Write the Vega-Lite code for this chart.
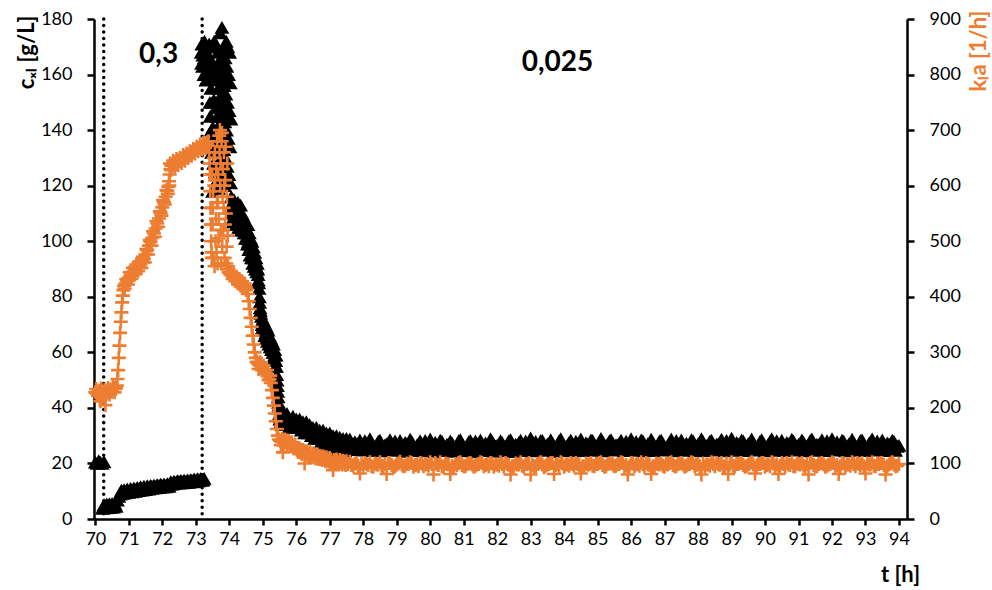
{
"$schema":"https://vega.github.io/schema/vega-lite/v6.json",
"autosize":{"type":"none"},
"width":813,"height":500,
"padding":{"left":94,"top":19,"right":85,"bottom":71},
"background":"#ffffff",
"config":{"view":{"stroke":null},"font":"Lato"},
"datasets":{
"cxl":[
{"t":70.0,"c":20.5},{"t":70.05,"c":20.0},{"t":70.1,"c":21.0},{"t":70.15,"c":20.5},{"t":70.2,"c":20.0},{"t":70.26,"c":20.6},
{"t":70.22,"c":3.8},{"t":70.26,"c":5.2},{"t":70.3,"c":4.0},{"t":70.34,"c":5.4},{"t":70.38,"c":4.1},{"t":70.42,"c":5.5},{"t":70.46,"c":4.2},{"t":70.5,"c":5.6},{"t":70.54,"c":4.3},{"t":70.58,"c":5.7},{"t":70.62,"c":4.6},{"t":70.66,"c":6.8},{"t":70.7,"c":8.2},{"t":70.74,"c":9.0},{"t":70.78,"c":10.4},{"t":70.82,"c":9.2},{"t":70.86,"c":10.6},{"t":70.9,"c":9.4},{"t":70.95,"c":10.8},{"t":71.0,"c":9.6},{"t":71.05,"c":11.0},{"t":71.1,"c":9.8},{"t":71.15,"c":11.2},{"t":71.2,"c":10.0},{"t":71.25,"c":11.4},{"t":71.3,"c":10.2},{"t":71.35,"c":11.6},{"t":71.4,"c":10.4},{"t":71.45,"c":11.8},{"t":71.5,"c":10.6},{"t":71.55,"c":12.0},{"t":71.6,"c":10.8},{"t":71.65,"c":12.1},{"t":71.7,"c":11.0},{"t":71.75,"c":12.2},{"t":71.8,"c":11.2},{"t":71.85,"c":12.4},{"t":71.9,"c":11.3},{"t":71.95,"c":12.5},{"t":72.0,"c":11.5},{"t":72.05,"c":12.6},{"t":72.1,"c":11.6},{"t":72.15,"c":12.7},{"t":72.2,"c":11.8},{"t":72.25,"c":13.4},{"t":72.3,"c":12.6},{"t":72.35,"c":13.6},{"t":72.4,"c":12.8},{"t":72.45,"c":13.8},{"t":72.5,"c":12.9},{"t":72.55,"c":13.9},{"t":72.6,"c":13.0},{"t":72.65,"c":14.0},{"t":72.7,"c":13.1},{"t":72.75,"c":14.1},{"t":72.8,"c":13.2},{"t":72.85,"c":14.2},{"t":72.9,"c":13.4},{"t":72.95,"c":14.4},{"t":73.0,"c":13.5},{"t":73.05,"c":14.5},{"t":73.1,"c":13.7},{"t":73.15,"c":14.6},{"t":73.2,"c":13.9},{"t":73.25,"c":14.6},
{"t":70.24,"c":4.6},{"t":70.28,"c":4.6},{"t":70.32,"c":4.8},{"t":70.36,"c":4.7},{"t":70.4,"c":4.9},{"t":70.44,"c":4.8},{"t":70.48,"c":5.0},{"t":70.52,"c":4.9},{"t":70.56,"c":5.1},{"t":70.6,"c":5.0},
{"t":70.76,"c":9.8},{"t":70.8,"c":9.9},{"t":70.84,"c":10.0},{"t":70.88,"c":10.1},{"t":70.925,"c":10.2},{"t":70.975,"c":10.3},{"t":71.025,"c":10.4},{"t":71.075,"c":10.5},{"t":71.125,"c":10.6},{"t":71.175,"c":10.7},{"t":71.225,"c":10.8},{"t":71.275,"c":10.9},{"t":71.325,"c":11.0},{"t":71.375,"c":11.1},{"t":71.425,"c":11.2},{"t":71.475,"c":11.3},{"t":71.525,"c":11.4},{"t":71.575,"c":11.5},{"t":71.625,"c":11.6},{"t":71.675,"c":11.7},{"t":71.725,"c":11.8},{"t":71.775,"c":11.9},{"t":71.825,"c":12.0},{"t":71.875,"c":12.0},{"t":71.925,"c":12.1},{"t":71.975,"c":12.2},{"t":72.025,"c":12.2},{"t":72.075,"c":12.3},{"t":72.125,"c":12.3},{"t":72.175,"c":12.4},{"t":72.225,"c":12.6},{"t":72.275,"c":13.1},{"t":72.325,"c":13.2},{"t":72.375,"c":13.3},{"t":72.425,"c":13.4},{"t":72.475,"c":13.4},{"t":72.525,"c":13.5},{"t":72.575,"c":13.5},{"t":72.625,"c":13.6},{"t":72.675,"c":13.6},{"t":72.725,"c":13.7},{"t":72.775,"c":13.7},{"t":72.825,"c":13.8},{"t":72.875,"c":13.9},{"t":72.925,"c":14.0},{"t":72.975,"c":14.0},{"t":73.025,"c":14.1},{"t":73.075,"c":14.2},{"t":73.125,"c":14.2},{"t":73.175,"c":14.3},{"t":73.225,"c":14.3},
{"t":73.16,"c":168},{"t":73.18,"c":171},{"t":73.2,"c":163},{"t":73.22,"c":169},{"t":73.24,"c":160},{"t":73.26,"c":172},{"t":73.28,"c":165},{"t":73.3,"c":158},{"t":73.32,"c":170},{"t":73.34,"c":162},{"t":73.36,"c":167},{"t":73.38,"c":159},{"t":73.4,"c":171},{"t":73.42,"c":150},{"t":73.44,"c":164},{"t":73.46,"c":140},{"t":73.48,"c":170},
{"t":73.17,"c":164},{"t":73.21,"c":167},{"t":73.25,"c":166},{"t":73.29,"c":169},{"t":73.33,"c":165},{"t":73.37,"c":163},{"t":73.41,"c":160},{"t":73.43,"c":145},{"t":73.45,"c":155},{"t":73.47,"c":132},{"t":73.49,"c":150},
{"t":73.5,"c":118},{"t":73.51,"c":141},{"t":73.52,"c":164},{"t":73.53,"c":128},{"t":73.54,"c":151},{"t":73.55,"c":172},{"t":73.56,"c":138},{"t":73.57,"c":161},{"t":73.58,"c":125},{"t":73.59,"c":148},{"t":73.6,"c":171},{"t":73.61,"c":135},{"t":73.62,"c":158},{"t":73.63,"c":122},{"t":73.64,"c":145},{"t":73.65,"c":168},{"t":73.66,"c":132},{"t":73.67,"c":155},{"t":73.68,"c":119},{"t":73.69,"c":142},{"t":73.7,"c":165},{"t":73.71,"c":129},{"t":73.72,"c":152},{"t":73.73,"c":175},{"t":73.74,"c":139},{"t":73.75,"c":162},{"t":73.76,"c":126},{"t":73.77,"c":149},{"t":73.78,"c":177},{"t":73.79,"c":136},{"t":73.8,"c":159},{"t":73.81,"c":123},{"t":73.82,"c":146},{"t":73.83,"c":169},{"t":73.84,"c":133},{"t":73.85,"c":156},{"t":73.86,"c":120},{"t":73.87,"c":143},{"t":73.88,"c":166},{"t":73.89,"c":130},{"t":73.9,"c":153},{"t":73.91,"c":172},{"t":73.92,"c":140},{"t":73.93,"c":163},{"t":73.94,"c":127},{"t":73.95,"c":150},{"t":73.96,"c":170},{"t":73.97,"c":137},{"t":73.98,"c":160},{"t":73.99,"c":124},{"t":74.0,"c":147},{"t":74.01,"c":168},{"t":74.02,"c":134},{"t":74.03,"c":157},{"t":74.04,"c":121},{"t":74.05,"c":144},
{"t":74.06,"c":116},{"t":74.08,"c":110},{"t":74.1,"c":114},{"t":74.12,"c":107},{"t":74.14,"c":115},{"t":74.16,"c":109},{"t":74.18,"c":113},{"t":74.2,"c":106},{"t":74.22,"c":112},{"t":74.24,"c":108},{"t":74.26,"c":114},{"t":74.28,"c":105},{"t":74.3,"c":111},{"t":74.32,"c":107},{"t":74.34,"c":113},{"t":74.36,"c":104},{"t":74.38,"c":110},{"t":74.4,"c":106},{"t":74.42,"c":109},{"t":74.44,"c":103},{"t":74.46,"c":107},{"t":74.48,"c":101},{"t":74.5,"c":105},
{"t":74.07,"c":112},{"t":74.09,"c":108},{"t":74.11,"c":111},{"t":74.13,"c":113},{"t":74.15,"c":108},{"t":74.17,"c":111},{"t":74.19,"c":109},{"t":74.21,"c":110},{"t":74.23,"c":106},{"t":74.25,"c":111},{"t":74.27,"c":109},{"t":74.29,"c":108},{"t":74.31,"c":110},{"t":74.33,"c":105},{"t":74.35,"c":109},{"t":74.37,"c":107},{"t":74.39,"c":108},{"t":74.41,"c":104},{"t":74.43,"c":107},{"t":74.45,"c":105},{"t":74.47,"c":104},{"t":74.49,"c":103},
{"t":74.52,"c":104},{"t":74.54,"c":99},{"t":74.56,"c":106},{"t":74.58,"c":97},{"t":74.6,"c":103},{"t":74.62,"c":95},{"t":74.64,"c":101},{"t":74.66,"c":94},{"t":74.68,"c":100},{"t":74.7,"c":92},{"t":74.72,"c":98},{"t":74.74,"c":91},{"t":74.76,"c":96},{"t":74.78,"c":90},{"t":74.8,"c":94},{"t":74.82,"c":89},{"t":74.84,"c":92},{"t":74.86,"c":88},{"t":74.88,"c":85},{"t":74.9,"c":80},{"t":74.92,"c":76},{"t":74.94,"c":74},
{"t":74.53,"c":101},{"t":74.55,"c":103},{"t":74.57,"c":100},{"t":74.59,"c":101},{"t":74.61,"c":99},{"t":74.63,"c":98},{"t":74.65,"c":97},{"t":74.67,"c":97},{"t":74.69,"c":96},{"t":74.71,"c":95},{"t":74.73,"c":94},{"t":74.75,"c":94},{"t":74.77,"c":93},{"t":74.79,"c":92},{"t":74.81,"c":91},{"t":74.83,"c":90},{"t":74.85,"c":90},{"t":74.87,"c":86},{"t":74.89,"c":83},{"t":74.91,"c":78},{"t":74.93,"c":75},
{"t":74.96,"c":73},{"t":74.98,"c":70},{"t":75.0,"c":72},{"t":75.02,"c":68},{"t":75.04,"c":71},{"t":75.06,"c":66},{"t":75.08,"c":70},{"t":75.1,"c":65},{"t":75.12,"c":69},{"t":75.14,"c":64},{"t":75.16,"c":68},{"t":75.18,"c":63},{"t":75.2,"c":66},{"t":75.22,"c":62},{"t":75.24,"c":65},{"t":75.26,"c":61},{"t":75.28,"c":64},{"t":75.3,"c":60},{"t":75.32,"c":63},{"t":75.34,"c":58},{"t":75.36,"c":61},{"t":75.38,"c":55},{"t":75.4,"c":59},{"t":75.42,"c":52},{"t":75.44,"c":48},{"t":75.46,"c":44},{"t":75.48,"c":41},{"t":75.5,"c":38},
{"t":74.97,"c":71},{"t":74.99,"c":69},{"t":75.01,"c":70},{"t":75.03,"c":70},{"t":75.05,"c":68},{"t":75.07,"c":68},{"t":75.09,"c":67},{"t":75.11,"c":67},{"t":75.13,"c":66},{"t":75.15,"c":66},{"t":75.17,"c":65},{"t":75.19,"c":65},{"t":75.21,"c":64},{"t":75.23,"c":63},{"t":75.25,"c":63},{"t":75.27,"c":62},{"t":75.29,"c":62},{"t":75.31,"c":61},{"t":75.33,"c":60},{"t":75.35,"c":59},{"t":75.37,"c":57},{"t":75.39,"c":57},{"t":75.41,"c":55},{"t":75.43,"c":50},{"t":75.45,"c":46},{"t":75.47,"c":42},{"t":75.49,"c":40},
{"t":75.52,"c":37},{"t":75.54,"c":35},{"t":75.56,"c":39},{"t":75.58,"c":34},{"t":75.6,"c":38},{"t":75.62,"c":35},{"t":75.64,"c":38},{"t":75.66,"c":34},{"t":75.68,"c":37},{"t":75.7,"c":35},{"t":75.72,"c":38},{"t":75.74,"c":34},{"t":75.76,"c":37},{"t":75.78,"c":33},{"t":75.8,"c":36},{"t":75.85,"c":34},{"t":75.9,"c":37},{"t":75.95,"c":33},{"t":76.0,"c":36},
{"t":75.51,"c":36},{"t":75.53,"c":38},{"t":75.55,"c":36},{"t":75.57,"c":37},{"t":75.59,"c":35},{"t":75.61,"c":37},{"t":75.63,"c":36},{"t":75.65,"c":36},{"t":75.67,"c":35},{"t":75.69,"c":36},{"t":75.71,"c":36},{"t":75.73,"c":35},{"t":75.75,"c":35},{"t":75.77,"c":36},{"t":75.79,"c":35},{"t":75.825,"c":35},{"t":75.875,"c":35},{"t":75.925,"c":35},{"t":75.975,"c":34},
{"t":76.05,"c":33},{"t":76.1,"c":36},{"t":76.15,"c":32},{"t":76.2,"c":35},{"t":76.25,"c":31},{"t":76.3,"c":35},{"t":76.35,"c":31},{"t":76.4,"c":34},{"t":76.45,"c":30},{"t":76.5,"c":33},{"t":76.55,"c":29},{"t":76.6,"c":33},{"t":76.65,"c":29},{"t":76.7,"c":32},{"t":76.75,"c":28},{"t":76.8,"c":32},{"t":76.85,"c":27},{"t":76.9,"c":31},{"t":76.95,"c":27},{"t":77.0,"c":31},{"t":77.05,"c":26},{"t":77.1,"c":30},{"t":77.15,"c":26},{"t":77.2,"c":30},{"t":77.25,"c":25},{"t":77.3,"c":29.5},{"t":77.35,"c":25},{"t":77.4,"c":29},{"t":77.45,"c":24.5},{"t":77.5,"c":29},
{"t":76.025,"c":34},{"t":76.075,"c":34},{"t":76.125,"c":34},{"t":76.175,"c":33},{"t":76.225,"c":33},{"t":76.275,"c":33},{"t":76.325,"c":33},{"t":76.375,"c":32},{"t":76.425,"c":32},{"t":76.475,"c":31},{"t":76.525,"c":31},{"t":76.575,"c":31},{"t":76.625,"c":31},{"t":76.675,"c":30},{"t":76.725,"c":30},{"t":76.775,"c":30},{"t":76.825,"c":29},{"t":76.875,"c":29},{"t":76.925,"c":29},{"t":76.975,"c":28.5},{"t":77.025,"c":28.5},{"t":77.075,"c":28},{"t":77.125,"c":28},{"t":77.175,"c":27.5},{"t":77.225,"c":27.5},{"t":77.275,"c":27},{"t":77.325,"c":27},{"t":77.375,"c":27},{"t":77.425,"c":26.5},{"t":77.475,"c":26.5},{"t":77.525,"c":27},{"t":77.55,"c":25},
{"t":77.6,"c":28.8},{"t":77.7,"c":25.0},{"t":77.8,"c":27.0},{"t":77.9,"c":28.5},{"t":78.0,"c":24.8},{"t":78.1,"c":26.8},{"t":78.2,"c":28.9},{"t":78.3,"c":24.6},{"t":78.4,"c":26.9},{"t":78.5,"c":28.4},
{"t":78.6,"c":24.5},{"t":78.7,"c":27.0},{"t":78.8,"c":28.6},{"t":78.9,"c":24.7},{"t":79.0,"c":26.5},{"t":79.1,"c":28.3},{"t":79.2,"c":24.4},{"t":79.3,"c":27.1},{"t":79.4,"c":28.7},{"t":79.5,"c":24.6},
{"t":79.6,"c":26.6},{"t":79.7,"c":28.2},{"t":79.8,"c":24.5},{"t":79.9,"c":27.0},{"t":80.0,"c":28.8},{"t":80.1,"c":24.3},{"t":80.2,"c":26.7},{"t":80.3,"c":28.4},{"t":80.4,"c":24.6},{"t":80.5,"c":26.9},
{"t":80.6,"c":28.1},{"t":80.7,"c":24.4},{"t":80.8,"c":26.8},{"t":80.9,"c":28.6},{"t":81.0,"c":24.5},{"t":81.1,"c":26.4},{"t":81.2,"c":28.3},{"t":81.3,"c":24.2},{"t":81.4,"c":27.0},{"t":81.5,"c":28.5},
{"t":81.6,"c":24.6},{"t":81.7,"c":26.7},{"t":81.8,"c":28.9},{"t":81.9,"c":24.4},{"t":82.0,"c":26.6},{"t":82.1,"c":28.2},{"t":82.2,"c":24.5},{"t":82.3,"c":27.1},{"t":82.4,"c":28.6},{"t":82.5,"c":24.3},
{"t":82.6,"c":26.8},{"t":82.7,"c":28.4},{"t":82.8,"c":24.6},{"t":82.9,"c":26.9},{"t":83.0,"c":29.2},{"t":83.1,"c":24.5},{"t":83.2,"c":26.6},{"t":83.3,"c":28.3},{"t":83.4,"c":24.7},{"t":83.5,"c":27.0},
{"t":83.6,"c":28.6},{"t":83.7,"c":24.4},{"t":83.8,"c":26.8},{"t":83.9,"c":28.9},{"t":84.0,"c":24.6},{"t":84.1,"c":26.7},{"t":84.2,"c":28.4},{"t":84.3,"c":24.5},{"t":84.4,"c":27.2},{"t":84.5,"c":28.8},
{"t":84.6,"c":24.6},{"t":84.7,"c":26.9},{"t":84.8,"c":28.5},{"t":84.9,"c":24.7},{"t":85.0,"c":26.8},{"t":85.1,"c":29.0},{"t":85.2,"c":24.5},{"t":85.3,"c":27.0},{"t":85.4,"c":28.6},{"t":85.5,"c":24.8},
{"t":85.6,"c":26.7},{"t":85.7,"c":28.4},{"t":85.8,"c":24.6},{"t":85.9,"c":27.0},{"t":86.0,"c":28.9},{"t":86.1,"c":24.7},{"t":86.2,"c":26.8},{"t":86.3,"c":28.5},{"t":86.4,"c":24.5},{"t":86.5,"c":27.1},
{"t":86.6,"c":28.7},{"t":86.7,"c":24.6},{"t":86.8,"c":26.9},{"t":86.9,"c":28.4},{"t":87.0,"c":24.8},{"t":87.1,"c":26.7},{"t":87.2,"c":28.8},{"t":87.3,"c":24.5},{"t":87.4,"c":27.0},{"t":87.5,"c":28.5},
{"t":87.6,"c":24.7},{"t":87.7,"c":26.8},{"t":87.8,"c":28.6},{"t":87.9,"c":24.5},{"t":88.0,"c":27.1},{"t":88.1,"c":28.9},{"t":88.2,"c":24.6},{"t":88.3,"c":26.7},{"t":88.4,"c":28.4},{"t":88.5,"c":24.8},
{"t":88.6,"c":27.0},{"t":88.7,"c":28.7},{"t":88.8,"c":24.5},{"t":88.9,"c":26.8},{"t":89.0,"c":29.1},{"t":89.1,"c":24.7},{"t":89.2,"c":26.9},{"t":89.3,"c":28.5},{"t":89.4,"c":24.6},{"t":89.5,"c":27.2},
{"t":89.6,"c":28.8},{"t":89.7,"c":24.8},{"t":89.8,"c":26.7},{"t":89.9,"c":28.6},{"t":90.0,"c":24.5},{"t":90.1,"c":27.0},{"t":90.2,"c":28.9},{"t":90.3,"c":24.7},{"t":90.4,"c":26.8},{"t":90.5,"c":28.4},
{"t":90.6,"c":24.6},{"t":90.7,"c":27.1},{"t":90.8,"c":28.7},{"t":90.9,"c":24.8},{"t":91.0,"c":26.9},{"t":91.1,"c":28.5},{"t":91.2,"c":24.5},{"t":91.3,"c":27.0},{"t":91.4,"c":28.8},{"t":91.5,"c":24.7},
{"t":91.6,"c":26.8},{"t":91.7,"c":28.6},{"t":91.8,"c":24.6},{"t":91.9,"c":27.1},{"t":92.0,"c":28.9},{"t":92.1,"c":24.8},{"t":92.2,"c":26.7},{"t":92.3,"c":28.4},{"t":92.4,"c":24.5},{"t":92.5,"c":27.0},
{"t":92.6,"c":28.7},{"t":92.7,"c":24.7},{"t":92.8,"c":26.9},{"t":92.9,"c":28.5},{"t":93.0,"c":24.6},{"t":93.1,"c":27.2},{"t":93.2,"c":28.8},{"t":93.3,"c":24.8},{"t":93.4,"c":26.7},{"t":93.5,"c":28.5},
{"t":93.6,"c":24.6},{"t":93.7,"c":27.0},{"t":93.8,"c":28.4},{"t":93.9,"c":24.7},{"t":94.0,"c":26.5},
{"t":77.65,"c":26.2},{"t":77.75,"c":27.8},{"t":77.85,"c":25.4},{"t":77.95,"c":26.9},{"t":78.05,"c":28.2},{"t":78.15,"c":25.8},{"t":78.25,"c":27.3},{"t":78.35,"c":26.0},{"t":78.45,"c":28.0},{"t":78.55,"c":25.5},
{"t":78.65,"c":26.8},{"t":78.75,"c":27.5},{"t":78.85,"c":25.6},{"t":78.95,"c":28.1},{"t":79.05,"c":26.3},{"t":79.15,"c":25.7},{"t":79.25,"c":27.6},{"t":79.35,"c":26.1},{"t":79.45,"c":27.9},{"t":79.55,"c":25.4},
{"t":79.65,"c":27.2},{"t":79.75,"c":25.9},{"t":79.85,"c":28.3},{"t":79.95,"c":26.4},{"t":80.05,"c":25.6},{"t":80.15,"c":27.7},{"t":80.25,"c":26.0},{"t":80.35,"c":28.0},{"t":80.45,"c":25.5},{"t":80.55,"c":26.9},
{"t":80.65,"c":27.5},{"t":80.75,"c":25.8},{"t":80.85,"c":28.2},{"t":80.95,"c":26.2},{"t":81.05,"c":25.6},{"t":81.15,"c":27.8},{"t":81.25,"c":26.5},{"t":81.35,"c":28.1},{"t":81.45,"c":25.4},{"t":81.55,"c":26.8},
{"t":81.65,"c":27.4},{"t":81.75,"c":25.9},{"t":81.85,"c":28.0},{"t":81.95,"c":26.3},{"t":82.05,"c":25.5},{"t":82.15,"c":27.6},{"t":82.25,"c":26.1},{"t":82.35,"c":28.2},{"t":82.45,"c":25.7},{"t":82.55,"c":26.9},
{"t":82.65,"c":27.6},{"t":82.75,"c":25.6},{"t":82.85,"c":28.1},{"t":82.95,"c":26.4},{"t":83.05,"c":25.8},{"t":83.15,"c":27.9},{"t":83.25,"c":26.0},{"t":83.35,"c":28.3},{"t":83.45,"c":25.5},{"t":83.55,"c":26.7},
{"t":83.65,"c":27.3},{"t":83.75,"c":25.8},{"t":83.85,"c":28.2},{"t":83.95,"c":26.5},{"t":84.05,"c":25.6},{"t":84.15,"c":27.7},{"t":84.25,"c":26.2},{"t":84.35,"c":28.0},{"t":84.45,"c":25.4},{"t":84.55,"c":26.9},
{"t":84.65,"c":27.5},{"t":84.75,"c":25.9},{"t":84.85,"c":28.3},{"t":84.95,"c":26.1},{"t":85.05,"c":25.7},{"t":85.15,"c":27.8},{"t":85.25,"c":26.4},{"t":85.35,"c":28.1},{"t":85.45,"c":25.6},{"t":85.55,"c":26.8},
{"t":85.65,"c":27.4},{"t":85.75,"c":25.7},{"t":85.85,"c":28.0},{"t":85.95,"c":26.3},{"t":86.05,"c":25.5},{"t":86.15,"c":27.9},{"t":86.25,"c":26.2},{"t":86.35,"c":28.2},{"t":86.45,"c":25.8},{"t":86.55,"c":26.9},
{"t":86.65,"c":27.6},{"t":86.75,"c":25.6},{"t":86.85,"c":28.1},{"t":86.95,"c":26.5},{"t":87.05,"c":25.7},{"t":87.15,"c":27.7},{"t":87.25,"c":26.0},{"t":87.35,"c":28.3},{"t":87.45,"c":25.5},{"t":87.55,"c":26.8},
{"t":87.65,"c":27.3},{"t":87.75,"c":25.9},{"t":87.85,"c":28.2},{"t":87.95,"c":26.2},{"t":88.05,"c":25.6},{"t":88.15,"c":27.8},{"t":88.25,"c":26.4},{"t":88.35,"c":28.0},{"t":88.45,"c":25.7},{"t":88.55,"c":26.9},
{"t":88.65,"c":27.5},{"t":88.75,"c":25.8},{"t":88.85,"c":28.3},{"t":88.95,"c":26.1},{"t":89.05,"c":25.5},{"t":89.15,"c":27.6},{"t":89.25,"c":26.3},{"t":89.35,"c":28.1},{"t":89.45,"c":25.6},{"t":89.55,"c":26.7},
{"t":89.65,"c":27.4},{"t":89.75,"c":25.7},{"t":89.85,"c":28.0},{"t":89.95,"c":26.5},{"t":90.05,"c":25.8},{"t":90.15,"c":27.9},{"t":90.25,"c":26.2},{"t":90.35,"c":28.2},{"t":90.45,"c":25.4},{"t":90.55,"c":26.8},
{"t":90.65,"c":27.6},{"t":90.75,"c":25.9},{"t":90.85,"c":28.1},{"t":90.95,"c":26.3},{"t":91.05,"c":25.6},{"t":91.15,"c":27.7},{"t":91.25,"c":26.0},{"t":91.35,"c":28.3},{"t":91.45,"c":25.5},{"t":91.55,"c":26.9},
{"t":91.65,"c":27.3},{"t":91.75,"c":25.6},{"t":91.85,"c":28.2},{"t":91.95,"c":26.4},{"t":92.05,"c":25.7},{"t":92.15,"c":27.8},{"t":92.25,"c":26.1},{"t":92.35,"c":28.0},{"t":92.45,"c":25.8},{"t":92.55,"c":26.7},
{"t":92.65,"c":27.5},{"t":92.75,"c":25.8},{"t":92.85,"c":28.3},{"t":92.95,"c":26.2},{"t":93.05,"c":25.5},{"t":93.15,"c":27.9},{"t":93.25,"c":26.3},{"t":93.35,"c":28.1},{"t":93.45,"c":25.6},{"t":93.55,"c":26.8},
{"t":93.65,"c":27.4},{"t":93.75,"c":25.7},{"t":93.85,"c":28.0},{"t":93.95,"c":26.2}
],
"kla":[
{"t":70.0,"k":228},{"t":70.05,"k":226},{"t":70.1,"k":231},{"t":70.15,"k":212},{"t":70.2,"k":225},{"t":70.25,"k":229},{"t":70.3,"k":205},{"t":70.35,"k":230},{"t":70.4,"k":227},{"t":70.45,"k":233},{"t":70.5,"k":229},{"t":70.55,"k":236},{"t":70.6,"k":234},{"t":70.64,"k":240},{"t":70.66,"k":252},{"t":70.68,"k":268},{"t":70.7,"k":290},{"t":70.72,"k":312},{"t":70.74,"k":335},{"t":70.76,"k":355},{"t":70.78,"k":372},{"t":70.8,"k":390},{"t":70.82,"k":402},{"t":70.84,"k":412},{"t":70.86,"k":420},{"t":70.9,"k":424},{"t":70.95,"k":428},{"t":71.0,"k":434},{"t":71.05,"k":438},{"t":71.1,"k":442},{"t":71.15,"k":446},{"t":71.2,"k":449},{"t":71.25,"k":452},{"t":71.3,"k":455},{"t":71.35,"k":458},{"t":71.4,"k":462},{"t":71.45,"k":468},{"t":71.5,"k":476},{"t":71.55,"k":484},{"t":71.6,"k":492},{"t":71.65,"k":499},{"t":71.7,"k":506},{"t":71.75,"k":514},{"t":71.8,"k":523},{"t":71.85,"k":532},{"t":71.9,"k":541},{"t":71.95,"k":551},{"t":72.0,"k":561},{"t":72.05,"k":570},{"t":72.1,"k":580},{"t":72.15,"k":590},{"t":72.18,"k":598},{"t":72.2,"k":608},{"t":72.22,"k":620},{"t":72.24,"k":630},{"t":72.27,"k":636},{"t":72.3,"k":636},{"t":72.35,"k":640},{"t":72.4,"k":642},{"t":72.45,"k":640},{"t":72.5,"k":645},{"t":72.55,"k":646},{"t":72.6,"k":649},{"t":72.65,"k":648},{"t":72.7,"k":652},{"t":72.75,"k":654},{"t":72.8,"k":656},{"t":72.85,"k":658},{"t":72.9,"k":660},{"t":72.95,"k":663},{"t":73.0,"k":664},{"t":73.05,"k":666},{"t":73.1,"k":668},{"t":73.15,"k":670},{"t":73.2,"k":671},{"t":73.25,"k":673},
{"t":70.025,"k":234},{"t":70.075,"k":222},{"t":70.125,"k":228},{"t":70.175,"k":235},{"t":70.225,"k":220},{"t":70.275,"k":232},{"t":70.325,"k":226},{"t":70.375,"k":236},{"t":70.425,"k":224},{"t":70.475,"k":231},{"t":70.525,"k":238},{"t":70.575,"k":228},{"t":70.62,"k":237},
{"t":70.875,"k":415},{"t":70.925,"k":432},{"t":70.975,"k":422},{"t":71.025,"k":444},{"t":71.075,"k":432},{"t":71.125,"k":452},{"t":71.175,"k":440},{"t":71.225,"k":458},{"t":71.275,"k":446},{"t":71.325,"k":464},{"t":71.375,"k":452},{"t":71.425,"k":472},{"t":71.475,"k":462},{"t":71.525,"k":486},{"t":71.575,"k":476},{"t":71.625,"k":502},{"t":71.675,"k":492},{"t":71.725,"k":518},{"t":71.775,"k":508},{"t":71.825,"k":536},{"t":71.875,"k":526},{"t":71.925,"k":554},{"t":71.975,"k":546},{"t":72.025,"k":574},{"t":72.075,"k":566},{"t":72.125,"k":592},{"t":72.165,"k":585},{"t":72.21,"k":600},{"t":72.23,"k":640},{"t":72.26,"k":628},{"t":72.325,"k":645},{"t":72.375,"k":634},{"t":72.425,"k":648},{"t":72.475,"k":637},{"t":72.525,"k":650},{"t":72.575,"k":641},{"t":72.625,"k":655},{"t":72.675,"k":645},{"t":72.725,"k":658},{"t":72.775,"k":650},{"t":72.825,"k":662},{"t":72.875,"k":654},{"t":72.925,"k":666},{"t":72.975,"k":658},{"t":73.025,"k":670},{"t":73.075,"k":662},{"t":73.125,"k":674},{"t":73.175,"k":665},{"t":73.225,"k":677},{"t":73.275,"k":668},
{"t":73.3,"k":674},{"t":73.32,"k":676},{"t":73.34,"k":678},{"t":73.36,"k":672},{"t":73.38,"k":680},{"t":73.4,"k":660},{"t":73.42,"k":620},{"t":73.44,"k":560},{"t":73.46,"k":500},{"t":73.48,"k":470},{"t":73.5,"k":530},{"t":73.52,"k":590},{"t":73.54,"k":650},{"t":73.56,"k":455},{"t":73.58,"k":610},{"t":73.6,"k":540},{"t":73.62,"k":480},{"t":73.64,"k":680},{"t":73.66,"k":570},{"t":73.68,"k":505},{"t":73.7,"k":690},{"t":73.72,"k":700},{"t":73.74,"k":640},{"t":73.76,"k":460},{"t":73.78,"k":695},{"t":73.8,"k":580},{"t":73.82,"k":520},{"t":73.84,"k":660},{"t":73.86,"k":470},{"t":73.88,"k":610},{"t":73.9,"k":550},{"t":73.92,"k":490},{"t":73.94,"k":640},{"t":73.96,"k":455},{"t":73.98,"k":445},{"t":74.0,"k":444},{"t":74.02,"k":442},{"t":74.04,"k":440},
{"t":73.41,"k":640},{"t":73.43,"k":590},{"t":73.45,"k":530},{"t":73.47,"k":480},{"t":73.49,"k":620},{"t":73.51,"k":560},{"t":73.53,"k":470},{"t":73.55,"k":600},{"t":73.57,"k":660},{"t":73.59,"k":500},{"t":73.61,"k":630},{"t":73.63,"k":570},{"t":73.65,"k":460},{"t":73.67,"k":620},{"t":73.69,"k":540},{"t":73.71,"k":660},{"t":73.73,"k":600},{"t":73.75,"k":520},{"t":73.77,"k":680},{"t":73.79,"k":490},{"t":73.81,"k":630},{"t":73.83,"k":560},{"t":73.85,"k":600},{"t":73.87,"k":530},{"t":73.89,"k":670},{"t":73.91,"k":460},{"t":73.93,"k":580},{"t":73.95,"k":510},{"t":73.97,"k":450},
{"t":74.08,"k":438},{"t":74.12,"k":436},{"t":74.16,"k":434},{"t":74.2,"k":432},{"t":74.24,"k":430},{"t":74.28,"k":428},{"t":74.32,"k":426},{"t":74.36,"k":424},{"t":74.4,"k":422},{"t":74.44,"k":420},{"t":74.48,"k":418},
{"t":74.06,"k":444},{"t":74.1,"k":432},{"t":74.14,"k":440},{"t":74.18,"k":428},{"t":74.22,"k":436},{"t":74.26,"k":424},{"t":74.3,"k":432},{"t":74.34,"k":420},{"t":74.38,"k":428},{"t":74.42,"k":416},{"t":74.46,"k":424},{"t":74.5,"k":412},
{"t":74.52,"k":414},{"t":74.55,"k":405},{"t":74.58,"k":392},{"t":74.61,"k":378},{"t":74.64,"k":362},{"t":74.67,"k":346},{"t":74.7,"k":330},{"t":74.73,"k":314},{"t":74.76,"k":300},{"t":74.79,"k":290},{"t":74.82,"k":283},{"t":74.85,"k":280},{"t":74.9,"k":277},{"t":74.95,"k":275},{"t":75.0,"k":272},{"t":75.05,"k":268},{"t":75.1,"k":262},{"t":75.15,"k":257},{"t":75.2,"k":252},{"t":75.24,"k":245},{"t":75.27,"k":232},{"t":75.3,"k":218},{"t":75.33,"k":204},{"t":75.36,"k":190},{"t":75.39,"k":176},{"t":75.42,"k":162},{"t":75.45,"k":150},{"t":75.48,"k":143},{"t":75.52,"k":141},{"t":75.56,"k":139},{"t":75.6,"k":120},{"t":75.65,"k":138},{"t":75.7,"k":140},{"t":75.75,"k":136},{"t":75.8,"k":138},{"t":75.85,"k":134},{"t":75.9,"k":132},{"t":75.95,"k":130},{"t":76.0,"k":127},
{"t":74.875,"k":270},{"t":74.925,"k":282},{"t":74.975,"k":268},{"t":75.025,"k":276},{"t":75.075,"k":262},{"t":75.125,"k":268},{"t":75.175,"k":250},{"t":75.225,"k":258},
{"t":75.54,"k":133},{"t":75.58,"k":144},{"t":75.62,"k":134},{"t":75.67,"k":143},{"t":75.72,"k":133},{"t":75.77,"k":141},{"t":75.82,"k":131},{"t":75.87,"k":138},{"t":75.92,"k":127},{"t":75.97,"k":134},
{"t":76.05,"k":121},{"t":76.1,"k":127},{"t":76.15,"k":119},{"t":76.2,"k":124},{"t":76.25,"k":100},{"t":76.3,"k":122},{"t":76.35,"k":115},{"t":76.4,"k":120},{"t":76.45,"k":112},{"t":76.5,"k":118},{"t":76.55,"k":111},{"t":76.6,"k":116},{"t":76.65,"k":109},{"t":76.7,"k":114},{"t":76.75,"k":108},{"t":76.8,"k":113},{"t":76.85,"k":106},{"t":76.9,"k":111},{"t":76.95,"k":105},{"t":77.0,"k":110},{"t":77.05,"k":103},{"t":77.1,"k":88},{"t":77.15,"k":102},{"t":77.2,"k":107},{"t":77.25,"k":101},{"t":77.3,"k":106},{"t":77.35,"k":100},{"t":77.4,"k":105},{"t":77.45,"k":99},{"t":77.5,"k":104},
{"t":76.025,"k":124},{"t":76.075,"k":120},{"t":76.125,"k":125},{"t":76.175,"k":117},{"t":76.225,"k":122},{"t":76.275,"k":115},{"t":76.325,"k":120},{"t":76.375,"k":113},{"t":76.425,"k":118},{"t":76.475,"k":111},{"t":76.525,"k":116},{"t":76.575,"k":109},{"t":76.625,"k":114},{"t":76.675,"k":108},{"t":76.725,"k":112},{"t":76.775,"k":106},{"t":76.825,"k":110},{"t":76.875,"k":104},{"t":76.925,"k":109},{"t":76.975,"k":103},{"t":77.025,"k":107},{"t":77.075,"k":101},{"t":77.125,"k":106},{"t":77.175,"k":100},{"t":77.225,"k":105},{"t":77.275,"k":99},{"t":77.325,"k":104},{"t":77.375,"k":98},{"t":77.425,"k":103},{"t":77.475,"k":97},{"t":77.55,"k":99},
{"t":77.6,"k":103},{"t":77.7,"k":96},{"t":77.8,"k":100},{"t":77.9,"k":82},{"t":78.0,"k":95},{"t":78.1,"k":99},{"t":78.2,"k":102},{"t":78.3,"k":94},{"t":78.4,"k":98},{"t":78.5,"k":102},
{"t":78.6,"k":95},{"t":78.7,"k":81},{"t":78.8,"k":101},{"t":78.9,"k":93},{"t":79.0,"k":98},{"t":79.1,"k":103},{"t":79.2,"k":95},{"t":79.3,"k":100},{"t":79.4,"k":102},{"t":79.5,"k":94},
{"t":79.6,"k":98},{"t":79.7,"k":101},{"t":79.8,"k":95},{"t":79.9,"k":99},{"t":80.0,"k":102},{"t":80.1,"k":80},{"t":80.2,"k":98},{"t":80.3,"k":102},{"t":80.4,"k":94},{"t":80.5,"k":99},
{"t":80.6,"k":81},{"t":80.7,"k":93},{"t":80.8,"k":97},{"t":80.9,"k":102},{"t":81.0,"k":95},{"t":81.1,"k":99},{"t":81.2,"k":101},{"t":81.3,"k":94},{"t":81.4,"k":98},{"t":81.5,"k":102},
{"t":81.6,"k":95},{"t":81.7,"k":99},{"t":81.8,"k":101},{"t":81.9,"k":94},{"t":82.0,"k":98},{"t":82.1,"k":102},{"t":82.2,"k":94},{"t":82.3,"k":99},{"t":82.4,"k":80},{"t":82.5,"k":95},
{"t":82.6,"k":98},{"t":82.7,"k":102},{"t":82.8,"k":94},{"t":82.9,"k":99},{"t":83.0,"k":80},{"t":83.1,"k":95},{"t":83.2,"k":99},{"t":83.3,"k":102},{"t":83.4,"k":93},{"t":83.5,"k":98},
{"t":83.6,"k":101},{"t":83.7,"k":81},{"t":83.8,"k":99},{"t":83.9,"k":102},{"t":84.0,"k":94},{"t":84.1,"k":98},{"t":84.2,"k":101},{"t":84.3,"k":96},{"t":84.4,"k":99},{"t":84.5,"k":82},
{"t":84.6,"k":94},{"t":84.7,"k":98},{"t":84.8,"k":101},{"t":84.9,"k":95},{"t":85.0,"k":99},{"t":85.1,"k":102},{"t":85.2,"k":94},{"t":85.3,"k":99},{"t":85.4,"k":101},{"t":85.5,"k":95},
{"t":85.6,"k":99},{"t":85.7,"k":102},{"t":85.8,"k":94},{"t":85.9,"k":80},{"t":86.0,"k":101},{"t":86.1,"k":95},{"t":86.2,"k":99},{"t":86.3,"k":102},{"t":86.4,"k":94},{"t":86.5,"k":98},
{"t":86.6,"k":81},{"t":86.7,"k":95},{"t":86.8,"k":99},{"t":86.9,"k":101},{"t":87.0,"k":94},{"t":87.1,"k":98},{"t":87.2,"k":102},{"t":87.3,"k":95},{"t":87.4,"k":99},{"t":87.5,"k":101},
{"t":87.6,"k":94},{"t":87.7,"k":98},{"t":87.8,"k":102},{"t":87.9,"k":95},{"t":88.0,"k":99},{"t":88.1,"k":80},{"t":88.2,"k":94},{"t":88.3,"k":98},{"t":88.4,"k":102},{"t":88.5,"k":95},
{"t":88.6,"k":99},{"t":88.7,"k":101},{"t":88.8,"k":94},{"t":88.9,"k":81},{"t":89.0,"k":102},{"t":89.1,"k":95},{"t":89.2,"k":99},{"t":89.3,"k":101},{"t":89.4,"k":94},{"t":89.5,"k":98},
{"t":89.6,"k":102},{"t":89.7,"k":82},{"t":89.8,"k":99},{"t":89.9,"k":101},{"t":90.0,"k":94},{"t":90.1,"k":98},{"t":90.2,"k":102},{"t":90.3,"k":95},{"t":90.4,"k":81},{"t":90.5,"k":101},
{"t":90.6,"k":94},{"t":90.7,"k":98},{"t":90.8,"k":102},{"t":90.9,"k":95},{"t":91.0,"k":99},{"t":91.1,"k":101},{"t":91.2,"k":94},{"t":91.3,"k":80},{"t":91.4,"k":102},{"t":91.5,"k":95},
{"t":91.6,"k":99},{"t":91.7,"k":101},{"t":91.8,"k":94},{"t":91.9,"k":98},{"t":92.0,"k":102},{"t":92.1,"k":95},{"t":92.2,"k":81},{"t":92.3,"k":101},{"t":92.4,"k":94},{"t":92.5,"k":98},
{"t":92.6,"k":102},{"t":92.7,"k":95},{"t":92.8,"k":99},{"t":92.9,"k":101},{"t":93.0,"k":82},{"t":93.1,"k":98},{"t":93.2,"k":102},{"t":93.3,"k":95},{"t":93.4,"k":99},{"t":93.5,"k":101},
{"t":93.6,"k":80},{"t":93.7,"k":98},{"t":93.8,"k":102},{"t":93.9,"k":95},{"t":94.0,"k":99},
{"t":77.65,"k":97},{"t":77.75,"k":100},{"t":77.85,"k":96},{"t":77.95,"k":99},{"t":78.05,"k":101},{"t":78.15,"k":97},{"t":78.25,"k":95},{"t":78.35,"k":100},{"t":78.45,"k":98},{"t":78.55,"k":96},
{"t":78.65,"k":99},{"t":78.75,"k":101},{"t":78.85,"k":97},{"t":78.95,"k":95},{"t":79.05,"k":100},{"t":79.15,"k":98},{"t":79.25,"k":96},{"t":79.35,"k":99},{"t":79.45,"k":101},{"t":79.55,"k":97},
{"t":79.65,"k":95},{"t":79.75,"k":100},{"t":79.85,"k":98},{"t":79.95,"k":96},{"t":80.05,"k":99},{"t":80.15,"k":101},{"t":80.25,"k":97},{"t":80.35,"k":95},{"t":80.45,"k":100},{"t":80.55,"k":98},
{"t":80.65,"k":96},{"t":80.75,"k":99},{"t":80.85,"k":101},{"t":80.95,"k":97},{"t":81.05,"k":95},{"t":81.15,"k":100},{"t":81.25,"k":98},{"t":81.35,"k":96},{"t":81.45,"k":99},{"t":81.55,"k":101},
{"t":81.65,"k":97},{"t":81.75,"k":95},{"t":81.85,"k":100},{"t":81.95,"k":98},{"t":82.05,"k":96},{"t":82.15,"k":99},{"t":82.25,"k":101},{"t":82.35,"k":97},{"t":82.45,"k":95},{"t":82.55,"k":100},
{"t":82.65,"k":98},{"t":82.75,"k":96},{"t":82.85,"k":99},{"t":82.95,"k":101},{"t":83.05,"k":97},{"t":83.15,"k":95},{"t":83.25,"k":100},{"t":83.35,"k":98},{"t":83.45,"k":96},{"t":83.55,"k":99},
{"t":83.65,"k":101},{"t":83.75,"k":97},{"t":83.85,"k":95},{"t":83.95,"k":100},{"t":84.05,"k":98},{"t":84.15,"k":96},{"t":84.25,"k":99},{"t":84.35,"k":101},{"t":84.45,"k":97},{"t":84.55,"k":95},
{"t":84.65,"k":100},{"t":84.75,"k":98},{"t":84.85,"k":96},{"t":84.95,"k":99},{"t":85.05,"k":101},{"t":85.15,"k":97},{"t":85.25,"k":95},{"t":85.35,"k":100},{"t":85.45,"k":98},{"t":85.55,"k":96},
{"t":85.65,"k":99},{"t":85.75,"k":101},{"t":85.85,"k":97},{"t":85.95,"k":95},{"t":86.05,"k":100},{"t":86.15,"k":98},{"t":86.25,"k":96},{"t":86.35,"k":99},{"t":86.45,"k":101},{"t":86.55,"k":97},
{"t":86.65,"k":95},{"t":86.75,"k":100},{"t":86.85,"k":98},{"t":86.95,"k":96},{"t":87.05,"k":99},{"t":87.15,"k":101},{"t":87.25,"k":97},{"t":87.35,"k":95},{"t":87.45,"k":100},{"t":87.55,"k":98},
{"t":87.65,"k":96},{"t":87.75,"k":99},{"t":87.85,"k":101},{"t":87.95,"k":97},{"t":88.05,"k":95},{"t":88.15,"k":100},{"t":88.25,"k":98},{"t":88.35,"k":96},{"t":88.45,"k":99},{"t":88.55,"k":101},
{"t":88.65,"k":97},{"t":88.75,"k":95},{"t":88.85,"k":100},{"t":88.95,"k":98},{"t":89.05,"k":96},{"t":89.15,"k":99},{"t":89.25,"k":101},{"t":89.35,"k":97},{"t":89.45,"k":95},{"t":89.55,"k":100},
{"t":89.65,"k":98},{"t":89.75,"k":96},{"t":89.85,"k":99},{"t":89.95,"k":101},{"t":90.05,"k":97},{"t":90.15,"k":95},{"t":90.25,"k":100},{"t":90.35,"k":98},{"t":90.45,"k":96},{"t":90.55,"k":99},
{"t":90.65,"k":101},{"t":90.75,"k":97},{"t":90.85,"k":95},{"t":90.95,"k":100},{"t":91.05,"k":98},{"t":91.15,"k":96},{"t":91.25,"k":99},{"t":91.35,"k":101},{"t":91.45,"k":97},{"t":91.55,"k":95},
{"t":91.65,"k":100},{"t":91.75,"k":98},{"t":91.85,"k":96},{"t":91.95,"k":99},{"t":92.05,"k":101},{"t":92.15,"k":97},{"t":92.25,"k":95},{"t":92.35,"k":100},{"t":92.45,"k":98},{"t":92.55,"k":96},
{"t":92.65,"k":99},{"t":92.75,"k":101},{"t":92.85,"k":97},{"t":92.95,"k":95},{"t":93.05,"k":100},{"t":93.15,"k":98},{"t":93.25,"k":96},{"t":93.35,"k":99},{"t":93.45,"k":101},{"t":93.55,"k":97},
{"t":93.65,"k":95},{"t":93.75,"k":100},{"t":93.85,"k":98},{"t":93.95,"k":96}
]
},
"encoding":{
"x":{"field":"t","type":"quantitative",
"scale":{"domain":[69.96,94.24],"nice":false,"zero":false},
"axis":{"values":[70,71,72,73,74,75,76,77,78,79,80,81,82,83,84,85,86,87,88,89,90,91,92,93,94],
"title":"t [h]","grid":false,"domainColor":"#000000","domainWidth":2.5,"tickColor":"#000000","tickWidth":2.5,"tickSize":6,
"labelFont":"Lato","labelFontSize":18,"labelColor":"#000000","labelPadding":5,"labelOverlap":false,"labelFlush":false,"labelBound":false,
"titleFont":"Lato","titleFontSize":22,"titleFontWeight":"bold","titleColor":"#000000","titleX":806,"titleY":55,"titleAlign":"center","titleBaseline":"middle"}}
},
"layer":[
{"layer":[
{"data":{"values":[{"t":70.25},{"t":73.19}]},
 "mark":{"type":"rule","color":"#000000","strokeWidth":3.5,"strokeDash":[0.01,6.5],"strokeCap":"round"},
 "encoding":{}},
{"data":{"name":"cxl"},
 "mark":{"type":"point","shape":"triangle-up","filled":true,"color":"#000000","size":220,"opacity":1,"strokeWidth":0},
 "encoding":{"y":{"field":"c","type":"quantitative","scale":{"domain":[0,180],"nice":false,"zero":false},
  "axis":{"values":[0,20,40,60,80,100,120,140,160,180],"title":"cₓₗ [g/L]","grid":false,"domainColor":"#000000","domainWidth":2.5,"tickColor":"#000000","tickWidth":2.5,"tickSize":7,
  "labelFont":"Lato","labelFontSize":18,"labelColor":"#000000","labelPadding":15,"labelOverlap":false,"labelFlush":false,"labelBound":false,
  "titleFont":"Lato","titleFontSize":22,"titleFontWeight":"bold","titleColor":"#000000","titleAngle":-90,"titleX":-68,"titleY":-4,"titleAlign":"right","titleBaseline":"middle"}}}},
{"data":{"values":[{"t":71.89,"c":167,"label":"0,3"},{"t":83.8,"c":164,"label":"0,025"}]},
 "mark":{"type":"text","font":"Lato","fontSize":28,"fontWeight":"bold","color":"#000000","align":"center","baseline":"middle"},
 "encoding":{"y":{"field":"c","type":"quantitative","scale":{"domain":[0,180],"nice":false,"zero":false},
  "axis":{"values":[0,20,40,60,80,100,120,140,160,180],"title":"cₓₗ [g/L]","grid":false,"domainColor":"#000000","domainWidth":2.5,"tickColor":"#000000","tickWidth":2.5,"tickSize":7,
  "labelFont":"Lato","labelFontSize":18,"labelColor":"#000000","labelPadding":15,"labelOverlap":false,"labelFlush":false,"labelBound":false,
  "titleFont":"Lato","titleFontSize":22,"titleFontWeight":"bold","titleColor":"#000000","titleAngle":-90,"titleX":-68,"titleY":-4,"titleAlign":"right","titleBaseline":"middle"}},
  "text":{"field":"label"}}}
]},
{"data":{"name":"kla"},
 "mark":{"type":"point","shape":"M-1,0H1M0,-1V1","filled":false,"color":"#ED7D31","size":196,"strokeWidth":2.6,"opacity":1},
 "encoding":{"y":{"field":"k","type":"quantitative","scale":{"domain":[0,900],"nice":false,"zero":false},
  "axis":{"orient":"right","values":[0,100,200,300,400,500,600,700,800,900],"title":"kₗa [1/h]","grid":false,"domainColor":"#000000","domainWidth":2.5,"tickColor":"#000000","tickWidth":2.5,"tickSize":7,
  "labelFont":"Lato","labelFontSize":18,"labelColor":"#000000","labelPadding":15,"labelOverlap":false,"labelFlush":false,"labelBound":false,
  "titleFont":"Lato","titleFontSize":22,"titleFontWeight":"bold","titleColor":"#ED7D31","titleAngle":-90,"titleX":71,"titleY":-9,"titleAlign":"right","titleBaseline":"middle"}}}}
],
"resolve":{"scale":{"y":"independent"}}
}
